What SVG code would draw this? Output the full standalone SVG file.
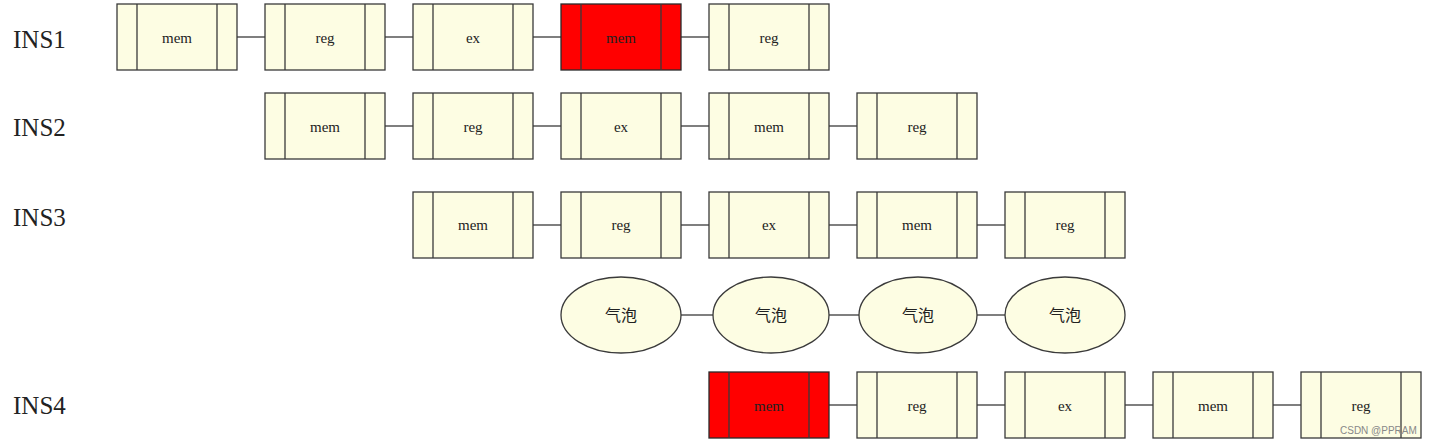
<svg xmlns="http://www.w3.org/2000/svg" width="1429" height="444" viewBox="0 0 1429 444">
<style>
.box{fill:#FDFDE3;stroke:#3a3a3a;stroke-width:1.3}
.hot{fill:#FF0000;stroke:#2a2a2a;stroke-width:1.3}
.div{stroke:#3a3a3a;stroke-width:1.3}
.lbl{font-family:"Liberation Serif","DejaVu Serif",serif;font-size:15px;fill:#222;text-anchor:middle;dominant-baseline:central}
.ins{font-family:"Liberation Serif","DejaVu Serif",serif;font-size:25px;fill:#222;dominant-baseline:central}
.cjk{font-family:"Noto Sans CJK SC",sans-serif;font-size:16px;fill:#222;text-anchor:middle;dominant-baseline:central}
.ell{fill:#FDFDE3;stroke:#3a3a3a;stroke-width:1.3}
.con{stroke:#3a3a3a;stroke-width:1.3;fill:none}
.wm{font-family:"Liberation Sans",sans-serif;font-size:10px;fill:#888}
</style>
<defs>
<g id="stage-y"><rect class="box" x="0" y="0" width="120" height="66"/><line class="div" x1="20" y1="0" x2="20" y2="66"/><line class="div" x1="100" y1="0" x2="100" y2="66"/></g>
<g id="stage-r"><rect class="hot" x="0" y="0" width="120" height="66"/><line class="div" x1="20" y1="0" x2="20" y2="66"/><line class="div" x1="100" y1="0" x2="100" y2="66"/></g>
</defs>
<g id="labels">
<text class="ins" x="13" y="39">INS1</text>
<text class="ins" x="13" y="127">INS2</text>
<text class="ins" x="13" y="217">INS3</text>
<text class="ins" x="13" y="405">INS4</text>
</g>
<g id="connectors">
<line class="con" x1="237" y1="37" x2="265" y2="37"/>
<line class="con" x1="385" y1="37" x2="413" y2="37"/>
<line class="con" x1="533" y1="37" x2="561" y2="37"/>
<line class="con" x1="681" y1="37" x2="709" y2="37"/>
<line class="con" x1="385" y1="126" x2="413" y2="126"/>
<line class="con" x1="533" y1="126" x2="561" y2="126"/>
<line class="con" x1="681" y1="126" x2="709" y2="126"/>
<line class="con" x1="829" y1="126" x2="857" y2="126"/>
<line class="con" x1="533" y1="225" x2="561" y2="225"/>
<line class="con" x1="681" y1="225" x2="709" y2="225"/>
<line class="con" x1="829" y1="225" x2="857" y2="225"/>
<line class="con" x1="977" y1="225" x2="1005" y2="225"/>
<line class="con" x1="681" y1="315" x2="713" y2="315"/>
<line class="con" x1="829" y1="315" x2="859" y2="315"/>
<line class="con" x1="977" y1="315" x2="1005" y2="315"/>
<line class="con" x1="829" y1="405" x2="857" y2="405"/>
<line class="con" x1="977" y1="405" x2="1005" y2="405"/>
<line class="con" x1="1125" y1="405" x2="1153" y2="405"/>
<line class="con" x1="1273" y1="405" x2="1301" y2="405"/>
</g>
<g id="i1-mem"><use href="#stage-y" x="117" y="4"/><text class="lbl" x="177" y="38">mem</text></g>
<g id="i1-reg"><use href="#stage-y" x="265" y="4"/><text class="lbl" x="325" y="38">reg</text></g>
<g id="i1-ex"><use href="#stage-y" x="413" y="4"/><text class="lbl" x="473" y="38">ex</text></g>
<g id="i1-mem2"><use href="#stage-r" x="561" y="4"/><text class="lbl" x="621" y="38">mem</text></g>
<g id="i1-reg2"><use href="#stage-y" x="709" y="4"/><text class="lbl" x="769" y="38">reg</text></g>
<g id="i2-mem"><use href="#stage-y" x="265" y="93"/><text class="lbl" x="325" y="127">mem</text></g>
<g id="i2-reg"><use href="#stage-y" x="413" y="93"/><text class="lbl" x="473" y="127">reg</text></g>
<g id="i2-ex"><use href="#stage-y" x="561" y="93"/><text class="lbl" x="621" y="127">ex</text></g>
<g id="i2-mem2"><use href="#stage-y" x="709" y="93"/><text class="lbl" x="769" y="127">mem</text></g>
<g id="i2-reg2"><use href="#stage-y" x="857" y="93"/><text class="lbl" x="917" y="127">reg</text></g>
<g id="i3-mem"><use href="#stage-y" x="413" y="192"/><text class="lbl" x="473" y="225">mem</text></g>
<g id="i3-reg"><use href="#stage-y" x="561" y="192"/><text class="lbl" x="621" y="225">reg</text></g>
<g id="i3-ex"><use href="#stage-y" x="709" y="192"/><text class="lbl" x="769" y="225">ex</text></g>
<g id="i3-mem2"><use href="#stage-y" x="857" y="192"/><text class="lbl" x="917" y="225">mem</text></g>
<g id="i3-reg2"><use href="#stage-y" x="1005" y="192"/><text class="lbl" x="1065" y="225">reg</text></g>
<g id="b1"><ellipse class="ell" cx="621" cy="315" rx="60" ry="38"/><text class="cjk" x="621" y="314">气泡</text></g>
<g id="b2"><ellipse class="ell" cx="771" cy="315" rx="58" ry="38"/><text class="cjk" x="771" y="314">气泡</text></g>
<g id="b3"><ellipse class="ell" cx="918" cy="315" rx="59" ry="38"/><text class="cjk" x="918" y="314">气泡</text></g>
<g id="b4"><ellipse class="ell" cx="1065" cy="315" rx="60" ry="38"/><text class="cjk" x="1065" y="314">气泡</text></g>
<g id="i4-mem"><use href="#stage-r" x="709" y="372"/><text class="lbl" x="769" y="406">mem</text></g>
<g id="i4-reg"><use href="#stage-y" x="857" y="372"/><text class="lbl" x="917" y="406">reg</text></g>
<g id="i4-ex"><use href="#stage-y" x="1005" y="372"/><text class="lbl" x="1065" y="406">ex</text></g>
<g id="i4-mem2"><use href="#stage-y" x="1153" y="372"/><text class="lbl" x="1213" y="406">mem</text></g>
<g id="i4-reg2"><use href="#stage-y" x="1301" y="372"/><text class="lbl" x="1361" y="406">reg</text></g>
<text class="wm" x="1340" y="434">CSDN @PPRAM</text>
</svg>
